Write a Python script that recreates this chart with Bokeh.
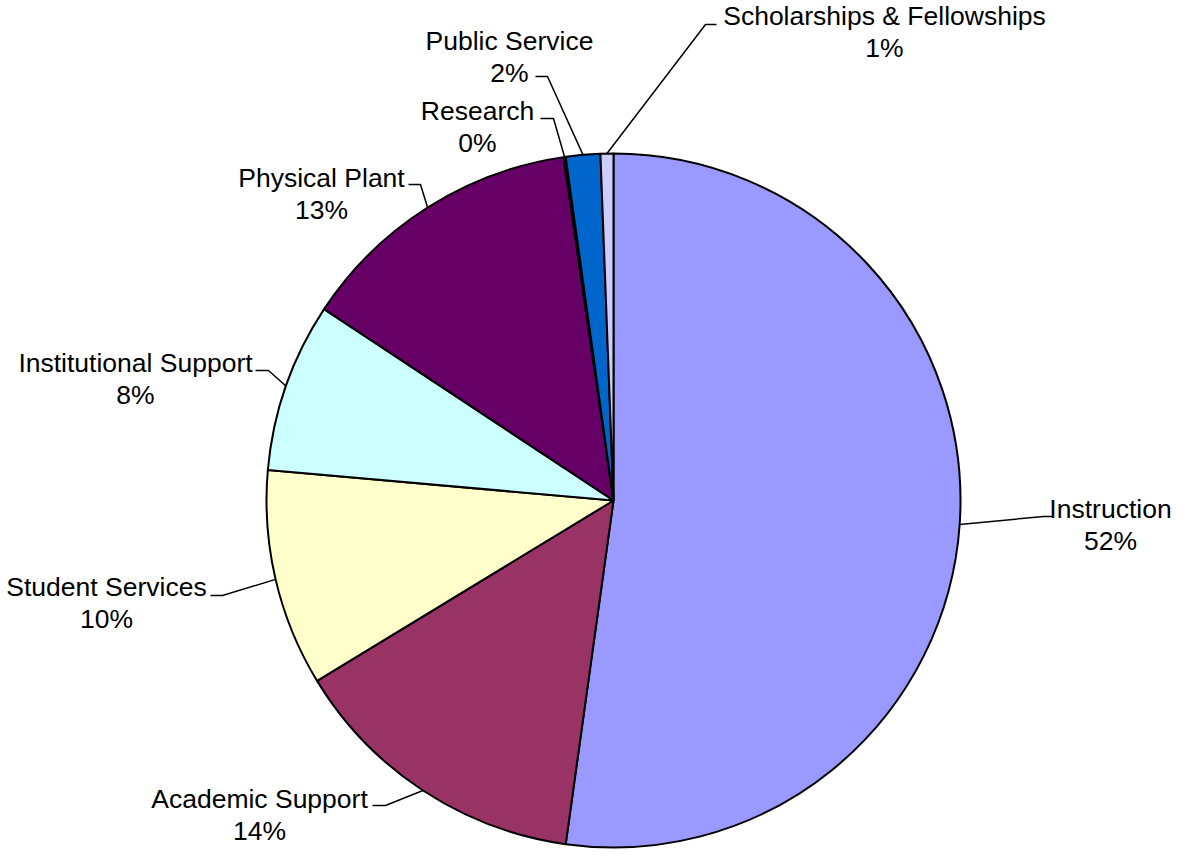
import math
from bokeh.plotting import figure
from bokeh.models import Range1d, ColumnDataSource
from bokeh.core.properties import value
from bokeh.embed import file_html
from bokeh.resources import INLINE

# ---- data ----
categories = ["Instruction", "Academic Support", "Student Services", "Institutional Support",
              "Physical Plant", "Research", "Public Service", "Scholarships & Fellowships"]
shares = [52.2, 14.1, 10.1, 7.9, 13.4, 0.1, 1.6, 0.6]
colors = ["#9999FF", "#993366", "#FFFFCC", "#CCFFFF", "#660066", "#FF8080", "#0066CC", "#CCCCFF"]

# ---- layout (pixel coordinates from top-left of the figure) ----
W, H = 1173, 851
CX, CY, R = 613, 500, 347
# label centre x, first-line y, elbow point, end point of leader
label_x = [1110, 259, 106, 135, 321, 477, 509, 884]
label_y = [508, 798, 586, 362, 177, 110, 40, 15]
elbow = [(1043, 516), (385, 805), (222, 595), (268, 370), (420, 184), (553, 118), (547, 76), (705, 24)]
endpt = [(1052, 516), (372, 805), (210, 595), (255, 370), (408, 184), (540, 118), (535, 76), (716, 24)]
LINE_GAP = 32
FONT_SIZE = "26.5px"


def dx(xp):
    return xp


def dy(yp):
    return H - yp


p = figure(width=W, height=H, output_backend="svg", toolbar_location=None,
           x_range=Range1d(0, W), y_range=Range1d(0, H), min_border=0)
p.axis.visible = False
p.grid.visible = False
p.outline_line_color = None
p.background_fill_color = "white"

total = sum(shares)
starts, ends, mids = [], [], []
cum = 0.0
for s in shares:
    f0 = cum / total
    cum += s
    f1 = cum / total
    starts.append(math.pi / 2 - f0 * 2 * math.pi)
    ends.append(math.pi / 2 - f1 * 2 * math.pi)
    mids.append((f0 + f1) / 2)

src = ColumnDataSource(dict(x=[dx(CX)] * len(shares), y=[dy(CY)] * len(shares),
                            start=starts, end=ends, color=colors, cat=categories))
p.wedge(x="x", y="y", radius=R, radius_units="screen", start_angle="start", end_angle="end",
        direction="clock", fill_color="color", line_color="black", line_width=2, source=src)

# leader lines
xs, ys = [], []
for i, m in enumerate(mids):
    th = m * 2 * math.pi
    rx = CX + R * math.sin(th)
    ry = CY - R * math.cos(th)
    xs.append([dx(rx), dx(elbow[i][0]), dx(endpt[i][0])])
    ys.append([dy(ry), dy(elbow[i][1]), dy(endpt[i][1])])
p.multi_line(xs=xs, ys=ys, line_color="black", line_width=1.5)

pct = [f"{int(s / total * 100 + 0.5)}%" for s in shares]
p.text(x=[dx(v) for v in label_x], y=[dy(v) for v in label_y], text=categories,
       text_align="center", text_baseline="middle", text_font=value("Liberation Sans"),
       text_font_size=FONT_SIZE, text_color="black")
p.text(x=[dx(v) for v in label_x], y=[dy(v + LINE_GAP) for v in label_y], text=pct,
       text_align="center", text_baseline="middle", text_font=value("Liberation Sans"),
       text_font_size=FONT_SIZE, text_color="black")

open("out.html", "w").write(file_html(p, INLINE))
